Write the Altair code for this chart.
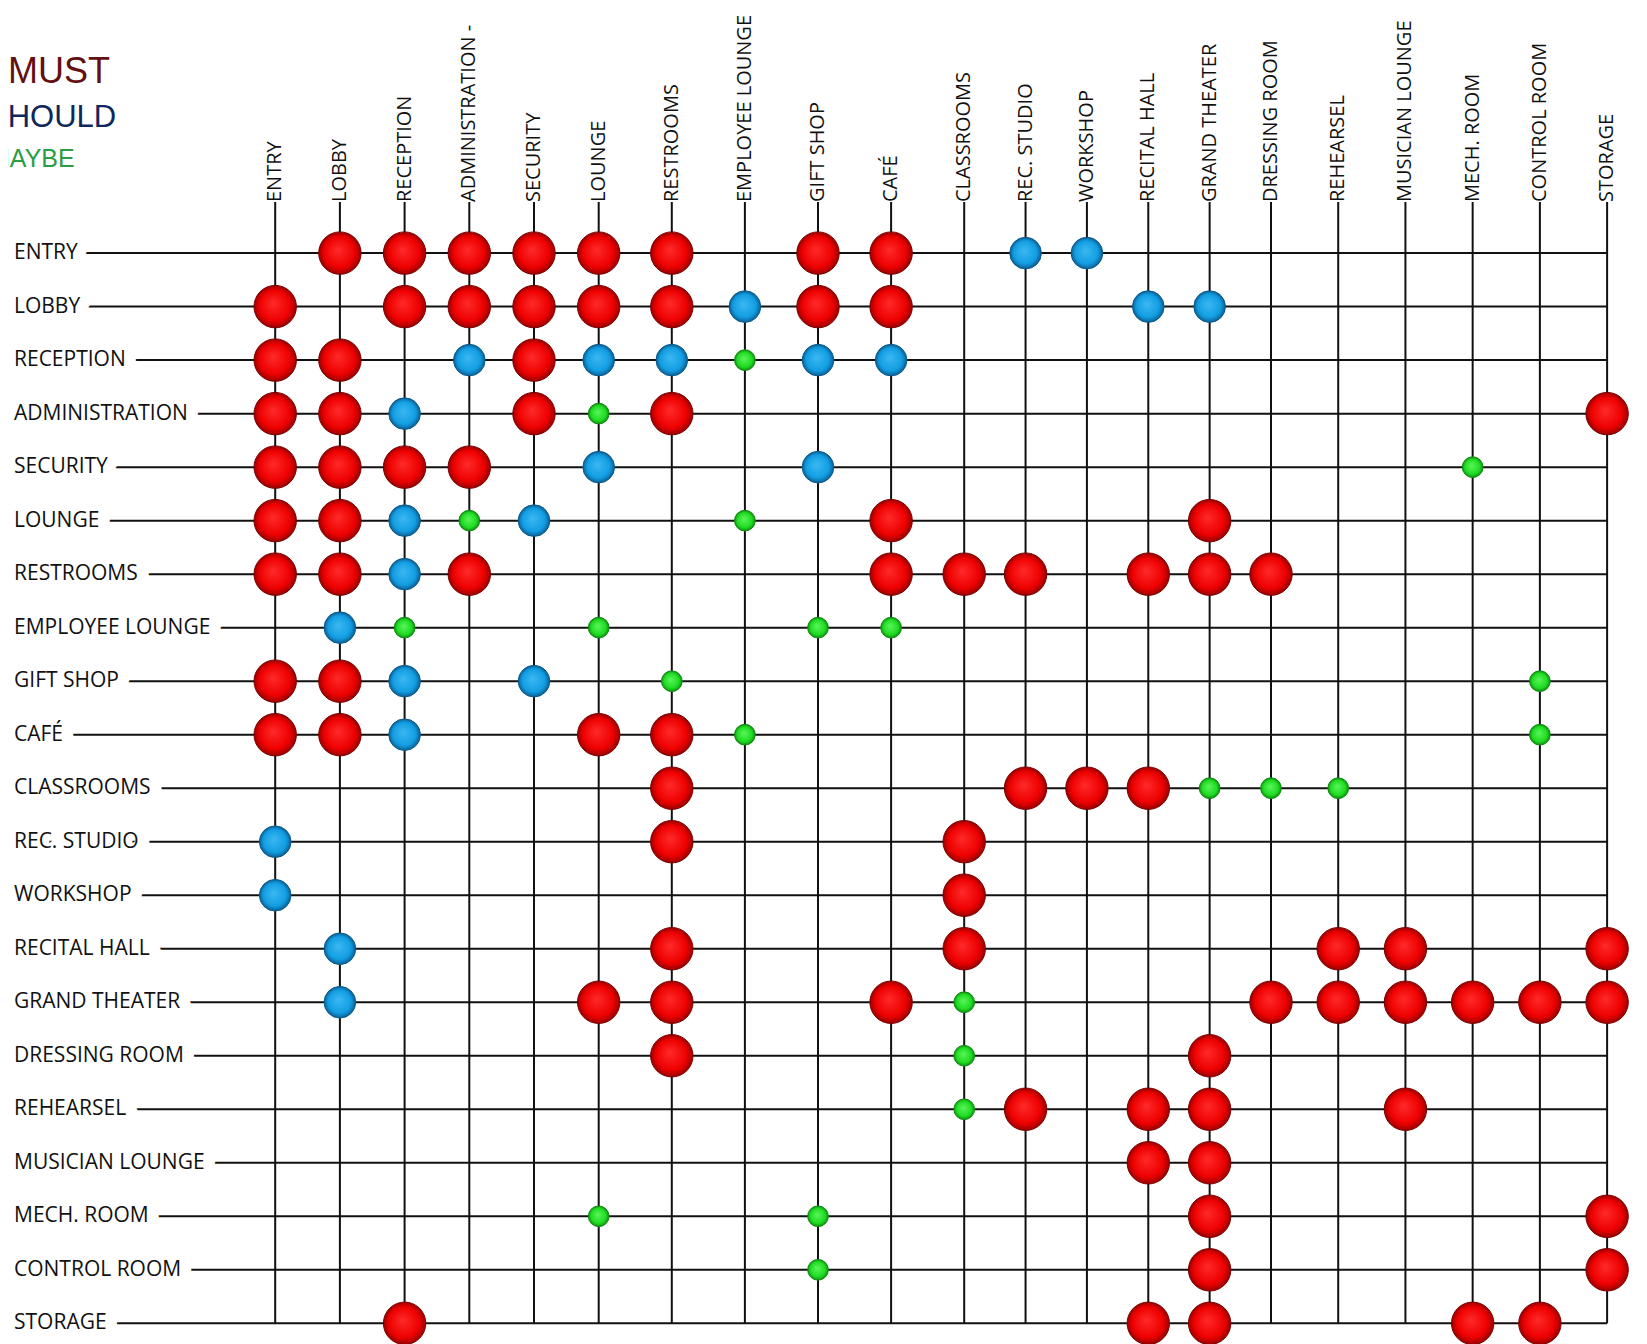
import altair as alt
import pandas as pd

# ---------------- data ----------------
rooms = ["ENTRY", "LOBBY", "RECEPTION", "ADMINISTRATION", "SECURITY", "LOUNGE",
         "RESTROOMS", "EMPLOYEE LOUNGE", "GIFT SHOP", "CAFÉ", "CLASSROOMS",
         "REC. STUDIO", "WORKSHOP", "RECITAL HALL", "GRAND THEATER",
         "DRESSING ROOM", "REHEARSEL", "MUSICIAN LOUNGE", "MECH. ROOM",
         "CONTROL ROOM", "STORAGE"]

column_labels = ["ENTRY", "LOBBY", "RECEPTION", "ADMINISTRATION -", "SECURITY",
                 "LOUNGE", "RESTROOMS", "EMPLOYEE LOUNGE", "GIFT SHOP", "CAFÉ",
                 "CLASSROOMS", "REC. STUDIO", "WORKSHOP", "RECITAL HALL",
                 "GRAND THEATER", "DRESSING ROOM", "REHEARSEL", "MUSICIAN LOUNGE",
                 "MECH. ROOM", "CONTROL ROOM", "STORAGE"]

legend_labels = ["MUST", "SHOULD", "MAYBE"]

must = [
    ("ENTRY", "LOBBY"), ("ENTRY", "RECEPTION"), ("ENTRY", "ADMINISTRATION"),
    ("ENTRY", "SECURITY"), ("ENTRY", "LOUNGE"), ("ENTRY", "RESTROOMS"),
    ("ENTRY", "GIFT SHOP"), ("ENTRY", "CAFÉ"),
    ("LOBBY", "ENTRY"), ("LOBBY", "RECEPTION"), ("LOBBY", "ADMINISTRATION"),
    ("LOBBY", "SECURITY"), ("LOBBY", "LOUNGE"), ("LOBBY", "RESTROOMS"),
    ("LOBBY", "GIFT SHOP"), ("LOBBY", "CAFÉ"),
    ("RECEPTION", "ENTRY"), ("RECEPTION", "LOBBY"), ("RECEPTION", "SECURITY"),
    ("ADMINISTRATION", "ENTRY"), ("ADMINISTRATION", "LOBBY"),
    ("ADMINISTRATION", "SECURITY"), ("ADMINISTRATION", "RESTROOMS"),
    ("ADMINISTRATION", "STORAGE"),
    ("SECURITY", "ENTRY"), ("SECURITY", "LOBBY"), ("SECURITY", "RECEPTION"),
    ("SECURITY", "ADMINISTRATION"),
    ("LOUNGE", "ENTRY"), ("LOUNGE", "LOBBY"), ("LOUNGE", "CAFÉ"),
    ("LOUNGE", "GRAND THEATER"),
    ("RESTROOMS", "ENTRY"), ("RESTROOMS", "LOBBY"), ("RESTROOMS", "ADMINISTRATION"),
    ("RESTROOMS", "CAFÉ"), ("RESTROOMS", "CLASSROOMS"), ("RESTROOMS", "REC. STUDIO"),
    ("RESTROOMS", "RECITAL HALL"), ("RESTROOMS", "GRAND THEATER"),
    ("RESTROOMS", "DRESSING ROOM"),
    ("GIFT SHOP", "ENTRY"), ("GIFT SHOP", "LOBBY"),
    ("CAFÉ", "ENTRY"), ("CAFÉ", "LOBBY"), ("CAFÉ", "LOUNGE"), ("CAFÉ", "RESTROOMS"),
    ("CLASSROOMS", "RESTROOMS"), ("CLASSROOMS", "REC. STUDIO"),
    ("CLASSROOMS", "WORKSHOP"), ("CLASSROOMS", "RECITAL HALL"),
    ("REC. STUDIO", "RESTROOMS"), ("REC. STUDIO", "CLASSROOMS"),
    ("WORKSHOP", "CLASSROOMS"),
    ("RECITAL HALL", "RESTROOMS"), ("RECITAL HALL", "CLASSROOMS"),
    ("RECITAL HALL", "REHEARSEL"), ("RECITAL HALL", "MUSICIAN LOUNGE"),
    ("RECITAL HALL", "STORAGE"),
    ("GRAND THEATER", "LOUNGE"), ("GRAND THEATER", "RESTROOMS"),
    ("GRAND THEATER", "CAFÉ"), ("GRAND THEATER", "DRESSING ROOM"),
    ("GRAND THEATER", "REHEARSEL"), ("GRAND THEATER", "MUSICIAN LOUNGE"),
    ("GRAND THEATER", "MECH. ROOM"), ("GRAND THEATER", "CONTROL ROOM"),
    ("GRAND THEATER", "STORAGE"),
    ("DRESSING ROOM", "RESTROOMS"), ("DRESSING ROOM", "GRAND THEATER"),
    ("REHEARSEL", "REC. STUDIO"), ("REHEARSEL", "RECITAL HALL"),
    ("REHEARSEL", "GRAND THEATER"), ("REHEARSEL", "MUSICIAN LOUNGE"),
    ("MUSICIAN LOUNGE", "RECITAL HALL"), ("MUSICIAN LOUNGE", "GRAND THEATER"),
    ("MECH. ROOM", "GRAND THEATER"), ("MECH. ROOM", "STORAGE"),
    ("CONTROL ROOM", "GRAND THEATER"), ("CONTROL ROOM", "STORAGE"),
    ("STORAGE", "RECEPTION"), ("STORAGE", "RECITAL HALL"),
    ("STORAGE", "GRAND THEATER"), ("STORAGE", "MECH. ROOM"),
    ("STORAGE", "CONTROL ROOM"),
]

should = [
    ("ENTRY", "REC. STUDIO"), ("ENTRY", "WORKSHOP"),
    ("LOBBY", "EMPLOYEE LOUNGE"), ("LOBBY", "RECITAL HALL"), ("LOBBY", "GRAND THEATER"),
    ("RECEPTION", "ADMINISTRATION"), ("RECEPTION", "LOUNGE"),
    ("RECEPTION", "RESTROOMS"), ("RECEPTION", "GIFT SHOP"), ("RECEPTION", "CAFÉ"),
    ("ADMINISTRATION", "RECEPTION"),
    ("SECURITY", "LOUNGE"), ("SECURITY", "GIFT SHOP"),
    ("LOUNGE", "RECEPTION"), ("LOUNGE", "SECURITY"),
    ("RESTROOMS", "RECEPTION"),
    ("EMPLOYEE LOUNGE", "LOBBY"),
    ("GIFT SHOP", "RECEPTION"), ("GIFT SHOP", "SECURITY"),
    ("CAFÉ", "RECEPTION"),
    ("REC. STUDIO", "ENTRY"),
    ("WORKSHOP", "ENTRY"),
    ("RECITAL HALL", "LOBBY"),
    ("GRAND THEATER", "LOBBY"),
]

maybe = [
    ("RECEPTION", "EMPLOYEE LOUNGE"),
    ("ADMINISTRATION", "LOUNGE"),
    ("SECURITY", "MECH. ROOM"),
    ("LOUNGE", "ADMINISTRATION"), ("LOUNGE", "EMPLOYEE LOUNGE"),
    ("EMPLOYEE LOUNGE", "RECEPTION"), ("EMPLOYEE LOUNGE", "LOUNGE"),
    ("EMPLOYEE LOUNGE", "GIFT SHOP"), ("EMPLOYEE LOUNGE", "CAFÉ"),
    ("GIFT SHOP", "RESTROOMS"), ("GIFT SHOP", "CONTROL ROOM"),
    ("CAFÉ", "EMPLOYEE LOUNGE"), ("CAFÉ", "CONTROL ROOM"),
    ("CLASSROOMS", "GRAND THEATER"), ("CLASSROOMS", "DRESSING ROOM"),
    ("CLASSROOMS", "REHEARSEL"),
    ("GRAND THEATER", "CLASSROOMS"),
    ("DRESSING ROOM", "CLASSROOMS"),
    ("REHEARSEL", "CLASSROOMS"),
    ("MECH. ROOM", "LOUNGE"), ("MECH. ROOM", "GIFT SHOP"),
    ("CONTROL ROOM", "GIFT SHOP"),
]

# ---------------- tables ----------------
idx = {r: i for i, r in enumerate(rooms)}
last = len(rooms) - 1

rows_df = pd.DataFrame({"room": rooms, "ri": list(range(len(rooms))), "end": last})
cols_df = pd.DataFrame({"label": column_labels, "ci": list(range(len(rooms))), "end": last})


def pairs_df(pairs):
    return pd.DataFrame({
        "row": [p[0] for p in pairs],
        "col": [p[1] for p in pairs],
        "ri": [idx[p[0]] for p in pairs],
        "ci": [idx[p[1]] for p in pairs],
    })


legend_df = pd.DataFrame({"label": legend_labels})

# ---------------- scales ----------------
xscale = alt.Scale(domain=[0, 5, 10, 15, last],
                   range=[267.2, 590.7, 956.2, 1263.0, 1599.1],
                   zero=False, nice=False)
yscale = alt.Scale(domain=[0, last], range=[245.1, 1315.3], zero=False, nice=False)

FONT = "Open Sans"
LINE = "#111111"
TXT = "#111111"

hlines = alt.Chart(rows_df).mark_rule(color=LINE, strokeWidth=2).encode(
    y=alt.Y("ri:Q", scale=yscale, axis=None),
    x=alt.X("end:Q", scale=xscale, axis=None),
    x2=alt.value(6),
)

vlines = alt.Chart(cols_df).mark_rule(color=LINE, strokeWidth=2).encode(
    x=alt.X("ci:Q", scale=xscale, axis=None),
    y=alt.Y("end:Q", scale=yscale, axis=None),
    y2=alt.value(194),
)

row_mask = alt.Chart(rows_df).mark_text(
    align="left", baseline="middle", font=FONT, fontSize=21,
    fill="white", stroke="white", strokeWidth=24, strokeJoin="round",
).encode(
    x=alt.value(6),
    y=alt.Y("ri:Q", scale=yscale, axis=None),
    text="room:N",
)

row_text = alt.Chart(rows_df).mark_text(
    align="left", baseline="middle", font=FONT, fontSize=21, color=TXT,
).encode(
    x=alt.value(6),
    y=alt.Y("ri:Q", scale=yscale, axis=None),
    text="room:N",
)

col_text = alt.Chart(cols_df).mark_text(
    align="left", baseline="middle", angle=270, font=FONT, fontSize=20,
    color=TXT,
).encode(
    x=alt.X("ci:Q", scale=xscale, axis=None),
    y=alt.value(194),
    text="label:N",
)


def grad(c0, c1, c2):
    return {
        "gradient": "radial",
        "x1": 0.45, "y1": 0.42, "r1": 0,
        "x2": 0.5, "y2": 0.5, "r2": 0.5,
        "stops": [
            {"offset": 0, "color": c0},
            {"offset": 0.72, "color": c1},
            {"offset": 1, "color": c2},
        ],
    }


def balls(pairs, size, fill, stroke):
    return alt.Chart(pairs_df(pairs)).mark_point(
        shape="circle", filled=True, size=size, fill=fill, stroke=stroke,
        strokeWidth=1, opacity=1, fillOpacity=1,
    ).encode(
        x=alt.X("ci:Q", scale=xscale, axis=None),
        y=alt.Y("ri:Q", scale=yscale, axis=None),
        tooltip=["row:N", "col:N"],
    )


red = balls(must, 1800, grad("#ff2a2a", "#ee0000", "#9a0000"), "#7a0000")
blue = balls(should, 1000, grad("#3cb8f2", "#129ee3", "#0b5f94"), "#0a5a8a")
green = balls(maybe, 430, grad("#5cf55c", "#1fdc22", "#0e8f10"), "#0f8a12")

LEG_FONT = "Liberation Sans, Arial, sans-serif"


def legend_text(label, x, y, size, color):
    return alt.Chart(legend_df).transform_filter(
        alt.datum.label == label
    ).mark_text(
        align="left", baseline="alphabetic", font=LEG_FONT, fontSize=size,
        color=color,
    ).encode(x=alt.value(x), y=alt.value(y), text="label:N")


# The reference image is cropped at its left edge, so the first letter of
# SHOULD and MAYBE falls just outside the picture.
leg_must = legend_text("MUST", 0, 75, 36, "#641010")
leg_should = legend_text("SHOULD", -21, 119, 31, "#10275e")
leg_maybe = legend_text("MAYBE", -19, 159, 25, "#2a9e44")

chart = alt.layer(
    vlines, hlines, row_mask, row_text, col_text, red, blue, green,
    leg_must, leg_should, leg_maybe,
).properties(
    width=1631, height=1336,
    autosize=alt.AutoSizeParams(type="none"),
    padding=0,
    background="white",
).configure_view(stroke=None)

chart.save("out.html", embed_options={"renderer": "svg", "actions": False})
